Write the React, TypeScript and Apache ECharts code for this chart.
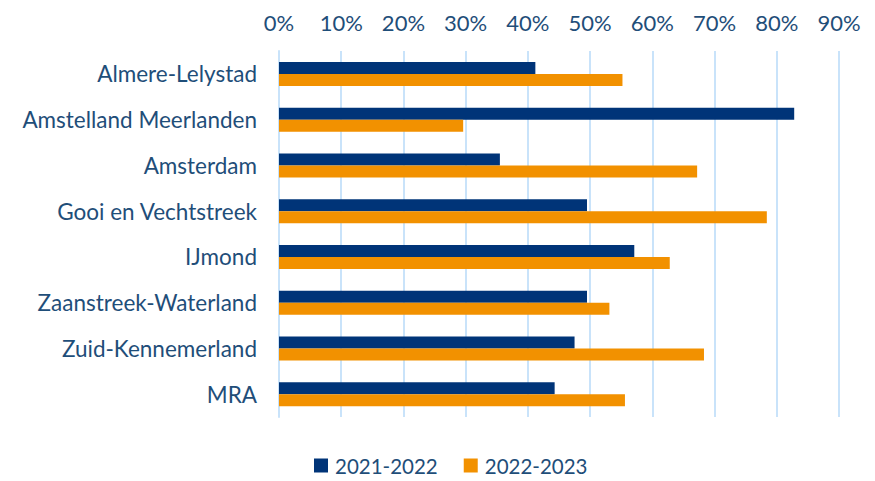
import React, { useEffect, useRef } from "react";
import * as echarts from "echarts";

const categories = [
  "Almere-Lelystad",
  "Amstelland Meerlanden",
  "Amsterdam",
  "Gooi en Vechtstreek",
  "IJmond",
  "Zaanstreek-Waterland",
  "Zuid-Kennemerland",
  "MRA",
];
const series2122 = [41.2, 82.8, 35.5, 49.5, 57.1, 49.5, 47.5, 44.3];
const series2223 = [55.2, 29.6, 67.2, 78.4, 62.8, 53.1, 68.3, 55.6];
const seriesNames = ["2021-2022", "2022-2023"];

const TEXT = "#1F4E79";
const FONT = "Lato, 'Open Sans', sans-serif";

export default function App() {
  const ref = useRef<HTMLDivElement>(null);
  useEffect(() => {
    if (!ref.current) return;
    const chart = echarts.init(ref.current, undefined, { renderer: "svg" });
    chart.setOption({
      animation: false,
      backgroundColor: "#ffffff",
      textStyle: { fontFamily: FONT },
      grid: { left: 279, right: 36, top: 51, bottom: 64, containLabel: false },
      legend: {
        top: 455,
        left: 314,
        padding: 0,
        itemWidth: 14,
        itemHeight: 14,
        itemGap: 26,
        icon: "rect",
        textStyle: { color: TEXT, fontSize: 20.5, lineHeight: 20, fontFamily: FONT, padding: [0, 0, 0, 2] },
        data: seriesNames,
      },
      xAxis: {
        type: "value",
        position: "top",
        min: 0,
        max: 90,
        interval: 10,
        axisLine: { show: false },
        axisTick: { show: false },
        axisLabel: {
          formatter: (v: number) => `${v}%`,
          color: TEXT,
          fontSize: 22,
          fontFamily: FONT,
          margin: 18,
        },
        splitLine: { show: true, lineStyle: { color: "#C9E3FA", width: 2 } },
      },
      yAxis: {
        type: "category",
        data: categories,
        inverse: true,
        axisLine: { show: true, lineStyle: { color: "#C9E3FA", width: 2 } },
        axisTick: { show: false },
        axisLabel: { color: TEXT, fontSize: 22.5, fontFamily: FONT, margin: 22 },
      },
      series: [
        {
          name: seriesNames[0],
          type: "bar",
          data: series2122,
          barWidth: 12,
          barGap: "0%",
          itemStyle: { color: "#003478" },
        },
        {
          name: seriesNames[1],
          type: "bar",
          data: series2223,
          barWidth: 12,
          barGap: "0%",
          itemStyle: { color: "#F29100" },
        },
      ],
    });
    return () => chart.dispose();
  }, []);
  return <div ref={ref} style={{ width: 875, height: 481, position: "absolute", left: 0, top: 0 }} />;
}
